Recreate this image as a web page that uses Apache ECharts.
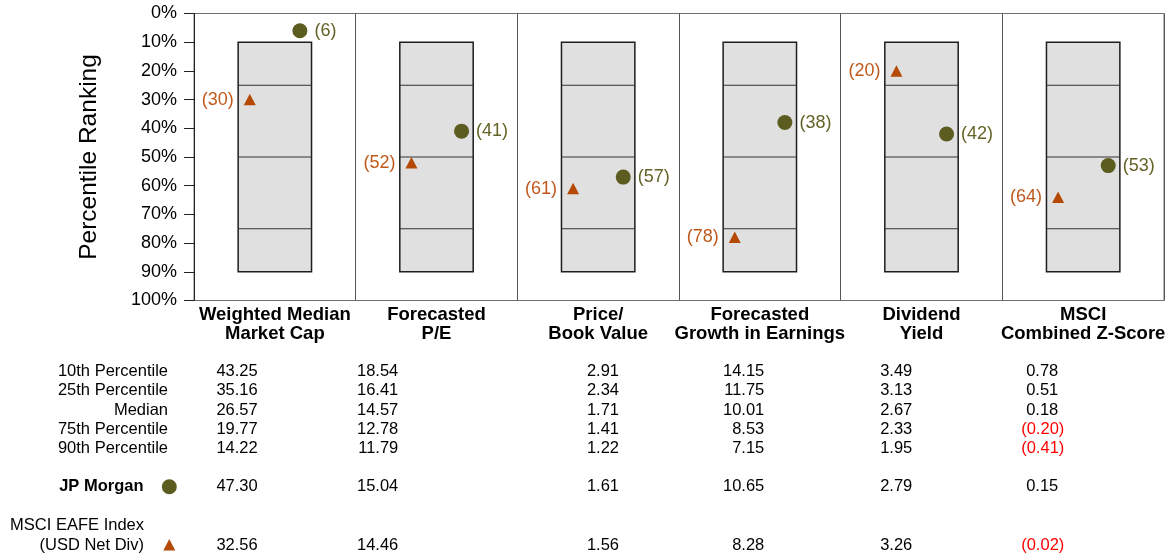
<!DOCTYPE html>
<html>
<head>
<meta charset="utf-8">
<script src="https://cdn.jsdelivr.net/npm/echarts@6/dist/echarts.min.js"></script>
<style>
html,body{margin:0;padding:0;background:#fff;}
#chart{width:1174px;height:557px;}
</style>
</head>
<body>
<div id="chart"></div>
<script>
// ---- data ----
const categories = ['Weighted Median\nMarket Cap', 'Forecasted\nP/E', 'Price/\nBook Value', 'Forecasted\nGrowth in Earnings', 'Dividend\nYield', 'MSCI\nCombined Z-Score'];
const jpmRank = [6, 41, 57, 38, 42, 53];
const msciRank = [30, 52, 61, 78, 20, 64];
const boxLevels = [10, 25, 50, 75, 90];
const yTicks = [0, 10, 20, 30, 40, 50, 60, 70, 80, 90, 100];

const rowLabels = ['10th Percentile', '25th Percentile', 'Median', '75th Percentile', '90th Percentile'];
const pct10 = [43.25, 18.54, 2.91, 14.15, 3.49, 0.78];
const pct25 = [35.16, 16.41, 2.34, 11.75, 3.13, 0.51];
const median = [26.57, 14.57, 1.71, 10.01, 2.67, 0.18];
const pct75 = [19.77, 12.78, 1.41, 8.53, 2.33, -0.20];
const pct90 = [14.22, 11.79, 1.22, 7.15, 1.95, -0.41];
const jpmValues = [47.30, 15.04, 1.61, 10.65, 2.79, 0.15];
const msciValues = [32.56, 14.46, 1.56, 8.28, 3.26, -0.02];
const seriesNames = ['JP Morgan', 'MSCI EAFE Index\n(USD Net Div)'];

// ---- styles ----
const FONT = "'Liberation Sans', Arial, sans-serif";
const OLIVE = '#5c5c20';
const ORANGE = '#b54a06';
const OLIVE_TXT = '#636327';
const ORANGE_TXT = '#c05a1c';
const markerOffset = 0.155;
const boxHalf = 0.227;

const chart = echarts.init(document.getElementById('chart'), null, {renderer: 'canvas'});

const boxData = categories.map((c, i) => [i, boxLevels[0], boxLevels[boxLevels.length - 1]]);

function renderBox(params, api) {
  const i = api.value(0);
  const x0 = api.coord([i + 0.5 - boxHalf, boxLevels[0]]);
  const x1 = api.coord([i + 0.5 + boxHalf, boxLevels[boxLevels.length - 1]]);
  const children = [{
    type: 'rect',
    shape: {x: x0[0], y: x0[1], width: x1[0] - x0[0], height: x1[1] - x0[1]},
    style: {fill: '#e0e0e0', stroke: '#1e1e1e', lineWidth: 1.5}
  }];
  for (let k = 1; k < boxLevels.length - 1; k++) {
    const a = api.coord([i + 0.5 - boxHalf, boxLevels[k]]);
    const b = api.coord([i + 0.5 + boxHalf, boxLevels[k]]);
    children.push({
      type: 'line',
      shape: {x1: a[0], y1: a[1], x2: b[0], y2: b[1]},
      style: {stroke: '#333', lineWidth: 1}
    });
  }
  return {type: 'group', children};
}

// ---- table ----
const colRight = [257.7, 398.3, 619, 764.3, 912.3, 1058.3];
const rowY = [371.7, 390.7, 410, 429.3, 448.3];
const jpmY = 486.7;
const msciY = [525.7, 545];
const labelRight = 168;
const tableFont = '16.5px ' + FONT;

function fmt(v) {
  const s = Math.abs(v).toFixed(2);
  return v < 0 ? '(' + s + ')' : s;
}

const graphics = [];
function numText(v, x, y) {
  graphics.push({
    type: 'text', x: v < 0 ? x + 6 : x, y: y,
    style: {text: fmt(v), font: tableFont, fill: v < 0 ? '#ff0000' : '#000', align: 'right', verticalAlign: 'middle'}
  });
}
const rows = [pct10, pct25, median, pct75, pct90];
rows.forEach((arr, r) => {
  graphics.push({
    type: 'text', x: labelRight, y: rowY[r],
    style: {text: rowLabels[r], font: tableFont, fill: '#000', align: 'right', verticalAlign: 'middle'}
  });
  arr.forEach((v, c) => numText(v, colRight[c], rowY[r]));
});
graphics.push({
  type: 'text', x: 143.5, y: jpmY,
  style: {text: seriesNames[0], font: 'bold 16.5px ' + FONT, fill: '#000', align: 'right', verticalAlign: 'middle'}
});
graphics.push({type: 'circle', shape: {cx: 169.3, cy: jpmY, r: 7.5}, style: {fill: OLIVE}});
jpmValues.forEach((v, c) => numText(v, colRight[c], jpmY));
const msciLines = seriesNames[1].split('\n');
msciLines.forEach((t, k) => {
  graphics.push({
    type: 'text', x: 144, y: msciY[k],
    style: {text: t, font: tableFont, fill: '#000', align: 'right', verticalAlign: 'middle'}
  });
});
graphics.push({type: 'polygon', shape: {points: [[169.3, msciY[1] - 6], [175.3, msciY[1] + 5.5], [163.3, msciY[1] + 5.5]]}, style: {fill: ORANGE}});
msciValues.forEach((v, c) => numText(v, colRight[c], msciY[1]));

const option = {
  animation: false,
  backgroundColor: '#fff',
  textStyle: {fontFamily: FONT},
  grid: {left: 194, top: 13.5, width: 970, height: 287, show: true, borderColor: '#6e6e6e', borderWidth: 1, backgroundColor: 'transparent'},
  xAxis: [{
    type: 'value', min: 0, max: categories.length, interval: 1,
    axisLine: {show: false}, axisTick: {show: false}, axisLabel: {show: false},
    splitLine: {show: true, lineStyle: {color: '#555', width: 1}}
  }, {
    type: 'category', data: categories, position: 'bottom', boundaryGap: true,
    axisLine: {show: false}, axisTick: {show: false},
    axisLabel: {fontSize: 18.5, fontWeight: 'bold', color: '#000', lineHeight: 19.5, margin: 4.5, fontFamily: FONT, interval: 0},
    splitLine: {show: false}
  }],
  yAxis: {
    type: 'value', inverse: true, min: yTicks[0], max: yTicks[yTicks.length - 1], interval: 10,
    name: 'Percentile Ranking', nameLocation: 'middle', nameRotate: 90, nameGap: 92,
    nameTextStyle: {fontSize: 24.5, color: '#000', fontFamily: FONT},
    axisLine: {show: true, lineStyle: {color: '#222', width: 1}},
    axisTick: {show: true, length: 10, lineStyle: {color: '#222'}},
    axisLabel: {formatter: '{value}%', fontSize: 18, color: '#000', margin: 17, fontFamily: FONT},
    splitLine: {show: false}
  },
  series: [{
    type: 'custom', xAxisIndex: 0, renderItem: renderBox, data: boxData, z: 2, silent: true
  }, {
    type: 'scatter', xAxisIndex: 0, symbol: 'circle', symbolSize: 15,
    itemStyle: {color: OLIVE, opacity: 1}, z: 5,
    data: jpmRank.map((v, i) => [i + 0.5 + markerOffset, v]),
    label: {show: true, position: 'right', distance: 7, color: OLIVE_TXT, fontSize: 18, fontFamily: FONT,
      formatter: p => '(' + p.value[1] + ')'}
  }, {
    type: 'scatter', xAxisIndex: 0, symbol: 'triangle', symbolSize: [12, 11.5],
    itemStyle: {color: ORANGE, opacity: 1}, z: 5,
    data: msciRank.map((v, i) => [i + 0.5 - markerOffset, v]),
    label: {show: true, position: 'left', distance: 10, color: ORANGE_TXT, fontSize: 18, fontFamily: FONT,
      formatter: p => '(' + p.value[1] + ')'}
  }],
  graphic: graphics
};
chart.setOption(option);
</script>
</body>
</html>
